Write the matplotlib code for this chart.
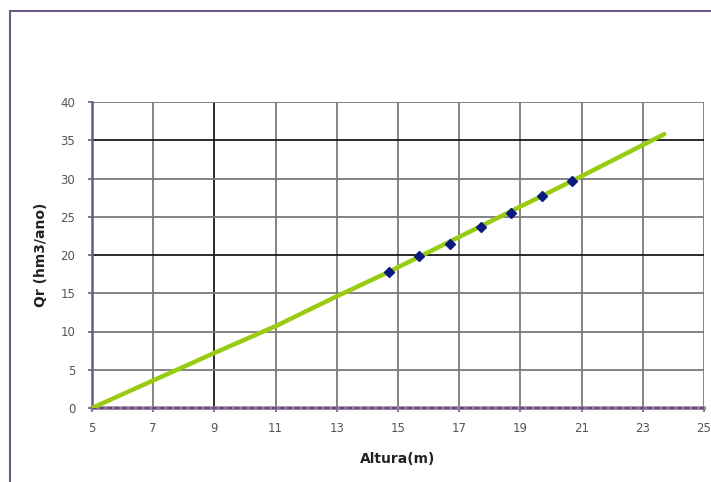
import numpy as np
import matplotlib.pyplot as plt
from matplotlib.patches import Rectangle

# measured points (Altura x Qr)
altura = [14.7, 15.7, 16.7, 17.7, 18.7, 19.7, 20.7]
qr = [17.75, 19.9, 21.4, 23.7, 25.5, 27.7, 29.7]

# trend line
trend_x = [5.0, 9.0, 11.0, 13.0, 14.7, 20.7, 23.7]
trend_y = [0.0, 7.2, 10.7, 14.6, 17.8, 29.7, 35.8]

# zero series along the axis
zero_x = [5, 7, 9, 11, 13, 15, 17, 19, 21, 23, 25]
zero_y = [0] * len(zero_x)

xticks = [5, 7, 9, 11, 13, 15, 17, 19, 21, 23, 25]
yticks = [0, 5, 10, 15, 20, 25, 30, 35, 40]

fig = plt.figure(figsize=(7.11, 4.82), dpi=100)
fig.patch.set_facecolor('white')

# outer frame of the chart object
fig.patches.append(Rectangle((10 / 711, -0.1), 1.2, (482 - 11) / 482 + 0.1,
                             transform=fig.transFigure, fill=False,
                             edgecolor='#6e5a7e', linewidth=1.5))

ax = fig.add_axes([92 / 711, (482 - 408) / 482, 612 / 711, 306 / 482])

ax.set_xlim(5, 25)
ax.set_ylim(0, 40)
ax.set_xticks(xticks)
ax.set_yticks(yticks)

for x in xticks[1:]:
    c = '#1a1a1a' if x == 9 else '#7a7a7a'
    ax.axvline(x, color=c, linewidth=1.3, zorder=1)
for y in yticks[1:]:
    c = '#1a1a1a' if y in (20, 35) else '#7a7a7a'
    ax.axhline(y, color=c, linewidth=1.3, zorder=1)

ax.plot(zero_x, zero_y, color='#9a82a8', linewidth=2.6, clip_on=False, zorder=3)
ax.plot(zero_x, zero_y, color='#5a4068', linewidth=1.2, linestyle=(0, (3, 1.5)),
        clip_on=False, zorder=3)
ax.plot(trend_x, trend_y, color='#99cc11', linewidth=3.2, solid_capstyle='round',
        zorder=4)
ax.plot(altura, qr, linestyle='none', marker='D', markersize=5,
        color='#0a1a80', zorder=5)

for s in ['top', 'right']:
    ax.spines[s].set_visible(False)
ax.spines['left'].set_color('#6e5a7e')
ax.spines['left'].set_linewidth(1.8)
ax.spines['bottom'].set_color('#6e5a7e')
ax.spines['bottom'].set_linewidth(1.8)

ax.tick_params(axis='both', colors='#6e5a7e', labelcolor='#555555',
               labelsize=8.5, length=3, width=1.2, direction='out')
ax.tick_params(axis='x', pad=7)
ax.tick_params(axis='y', pad=9)

ax.set_xlabel('Altura(m)', fontsize=10, fontweight='bold', color='#222222', labelpad=12)
ax.set_ylabel('Qr (hm3/ano)', fontsize=10, fontweight='bold', color='#222222', labelpad=9)

fig.savefig('out.png', dpi=100)
